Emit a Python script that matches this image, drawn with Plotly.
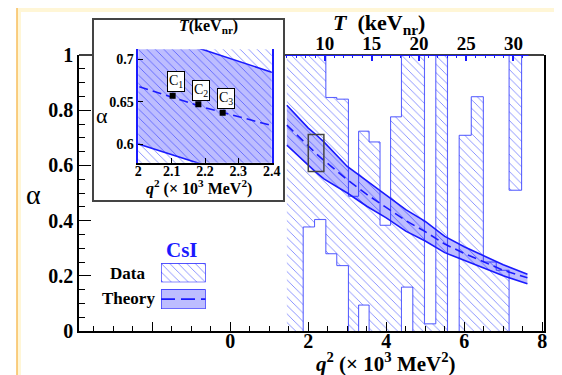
import plotly.graph_objects as go

W, H = 562, 375

# ---------------- data ----------------
bin_edges = [1.45, 1.87, 2.16, 2.45, 2.73, 3.03, 3.29, 3.56, 3.84, 4.11, 4.39,
             4.68, 4.98, 5.27, 5.57, 5.87, 6.18, 6.49, 6.82, 7.15, 7.47]
data_lo = [0.0, 0.377, 0.404, 0.280, 0.237, 0.0, 0.094, 0.0, 0.0, 0.0, 0.159,
           0.0, 0.0, 0.0, 0.0, 0.0, 0.0, 0.0, 0.0, 0.510]
data_hi = [1.0, 1.0, 1.0, 0.846, 0.840, 0.488, 0.724, 0.685, 0.383, 0.776, 1.0,
           1.0, 0.026, 1.0, 0.0, 0.709, 0.849, 0.250, 0.220, 1.0]

theory_q2 = [1.45, 2.0, 2.2, 2.4, 3.0, 3.5, 4.0, 4.5, 5.0, 5.5, 6.0, 6.5, 7.0, 7.62]
theory_mid = [0.746, 0.668, 0.643, 0.618, 0.548, 0.495, 0.446, 0.400, 0.360, 0.315,
              0.281, 0.250, 0.220, 0.193]
theory_up = [0.818, 0.735, 0.711, 0.685, 0.596, 0.543, 0.492, 0.440, 0.397, 0.343,
             0.305, 0.271, 0.240, 0.206]
theory_low = [0.673, 0.600, 0.575, 0.551, 0.500, 0.452, 0.410, 0.362, 0.326, 0.284,
              0.255, 0.228, 0.200, 0.171]

c_labels = ["C<sub>1</sub>", "C<sub>2</sub>", "C<sub>3</sub>"]
c_q2 = [2.103, 2.180, 2.253]
c_alpha = [0.657, 0.647, 0.637]

x_tickvals = [-2, 0, 2, 4, 6, 8]
x_ticktext = ["", "0", "2", "4", "6", "8"]
y_tickvals = [0, 0.2, 0.4, 0.6, 0.8, 1.0]
y_ticktext = ["0", "0.2", "0.4", "0.6", "0.8", "1"]
T_tickvals = [10, 15, 20, 25, 30]
inset_x_tickvals = [2.0, 2.1, 2.2, 2.3, 2.4]
inset_x_ticktext = ["2", "2.1", "2.2", "2.3", "2.4"]
inset_y_tickvals = [0.6, 0.65, 0.7]
inset_y_ticktext = ["0.6", "0.65", "0.7"]
inset_T_tickvals = [8.5, 9, 9.5]
inset_T_ticktext = ["8.5", "9", "9.5"]

KEV_TO_Q2 = 0.242          # q^2 (x10^3 MeV^2) per keV_nr for CsI
T_LINE = [5.85, 31.6]      # extent of blue top (T) axis, keV

# ---------------- layout constants ----------------
X_RANGE = [-3.88, 8.045]
Y_RANGE = [0.0, 1.0]
INSET_X = [2.0, 2.4]
INSET_Y = [0.578, 0.712]
OFF = 8  # page offset of the figure inside the browser window

def px(x):
    return (x - OFF) / W

def py(y):
    return 1 - (y - OFF) / H

FONT = "Liberation Serif"
BLUE = "#1a1aff"
HATCH = "rgba(70,85,255,0.8)"
OUTLINE = "rgba(40,50,255,0.75)"
BAND = "rgba(0,0,255,0.26)"

# ---------------- geometry from data ----------------
hx, hy = [], []
for i in range(len(data_lo)):
    lo, hi = data_lo[i], data_hi[i]
    if hi > lo:
        e0, e1 = bin_edges[i], bin_edges[i + 1]
        hx += [e0, e1, e1, e0, e0, None]
        hy += [lo, lo, hi, hi, lo, None]

def symdiff(a, b):
    ea = a is None or a[1] <= a[0]
    eb = b is None or b[1] <= b[0]
    if ea and eb:
        return []
    if ea:
        return [b]
    if eb:
        return [a]
    olo, ohi = max(a[0], b[0]), min(a[1], b[1])
    if olo >= ohi:
        return [a, b]
    segs = []
    if min(a[0], b[0]) < olo:
        segs.append((min(a[0], b[0]), olo))
    if ohi < max(a[1], b[1]):
        segs.append((ohi, max(a[1], b[1])))
    return segs

ox, oy = [], []
n = len(data_lo)
for i in range(n):
    lo, hi = data_lo[i], data_hi[i]
    if hi > lo:
        e0, e1 = bin_edges[i], bin_edges[i + 1]
        ox += [e0, e1, None]; oy += [hi, hi, None]
        if lo > 0:
            ox += [e0, e1, None]; oy += [lo, lo, None]
for j in range(1, n + 1):
    A = (data_lo[j - 1], data_hi[j - 1])
    B = (data_lo[j], data_hi[j]) if j < n else None
    for s in symdiff(A, B):
        ox += [bin_edges[j], bin_edges[j], None]; oy += [s[0], s[1], None]

band_x = theory_q2 + theory_q2[::-1]
band_y = theory_up + theory_low[::-1]

fig = go.Figure()
PATTERN = dict(shape="\\", fgcolor=HATCH, bgcolor="white", size=6, solidity=0.13)

def add_set(xa, ya, with_outline=True):
    fig.add_trace(go.Scatter(x=hx, y=hy, xaxis=xa, yaxis=ya, mode="lines", fill="toself",
                             line=dict(width=0, color="rgba(0,0,0,0)"), fillcolor="white",
                             fillpattern=PATTERN, hoverinfo="skip", showlegend=False))
    if with_outline:
        fig.add_trace(go.Scatter(x=ox, y=oy, xaxis=xa, yaxis=ya, mode="lines",
                                 line=dict(color=OUTLINE, width=1.1),
                                 hoverinfo="skip", showlegend=False))
    fig.add_trace(go.Scatter(x=band_x, y=band_y, xaxis=xa, yaxis=ya, mode="lines", fill="toself",
                             fillcolor=BAND, line=dict(width=0, color="rgba(0,0,0,0)"),
                             hoverinfo="skip", showlegend=False))
    for yy in (theory_up, theory_low):
        fig.add_trace(go.Scatter(x=theory_q2, y=yy, xaxis=xa, yaxis=ya, mode="lines",
                                 line=dict(color=BLUE, width=1.6),
                                 hoverinfo="skip", showlegend=False))
    fig.add_trace(go.Scatter(x=theory_q2, y=theory_mid, xaxis=xa, yaxis=ya, mode="lines",
                             line=dict(color=BLUE, width=1.6, dash="9px,5px"),
                             hoverinfo="skip", showlegend=False))

add_set("x", "y")
add_set("x3", "y3", with_outline=False)

fig.add_trace(go.Scatter(x=c_q2, y=c_alpha, xaxis="x3", yaxis="y3", mode="markers",
                         marker=dict(symbol="square", size=6, color="black"),
                         hoverinfo="skip", showlegend=False))

# legend glyphs (own small axes)
fig.add_trace(go.Scatter(x=[0, 1, 1, 0, 0], y=[0, 0, 1, 1, 0], xaxis="x5", yaxis="y5",
                         mode="lines", fill="toself", fillcolor="white", fillpattern=PATTERN,
                         line=dict(color=BLUE, width=1.2), hoverinfo="skip", showlegend=False))
fig.add_trace(go.Scatter(x=[0, 1, 1, 0, 0], y=[0, 0, 1, 1, 0], xaxis="x6", yaxis="y6",
                         mode="lines", fill="toself", fillcolor=BAND,
                         line=dict(color=BLUE, width=1.2), hoverinfo="skip", showlegend=False))
fig.add_trace(go.Scatter(x=[0, 1], y=[0.5, 0.5], xaxis="x6", yaxis="y6", mode="lines",
                         line=dict(color=BLUE, width=1.6, dash="14px,6px"),
                         hoverinfo="skip", showlegend=False))

tickfont = dict(family=FONT, size=20, color="black", weight="bold")
small_tf = dict(family=FONT, size=14, color="black", weight="bold")
all_T = [t for t in range(6, 32) if t % 5 != 0]

main_dom_x = [px(79), px(544)]
main_dom_y = [py(331), py(55)]

fig.update_layout(
    width=W, height=H, template="none",
    margin=dict(l=0, r=0, t=0, b=0, autoexpand=False),
    paper_bgcolor="white", plot_bgcolor="rgba(0,0,0,0)",
    showlegend=False,
    xaxis=dict(domain=main_dom_x, range=X_RANGE, anchor="y", showgrid=False, zeroline=False,
               showline=True, linecolor="black", linewidth=1.5, mirror=False,
               ticks="inside", ticklen=9, tickwidth=1.3, tickcolor="black",
               tickvals=x_tickvals, ticktext=x_ticktext, tickfont=tickfont,
               ticklabelstandoff=-9,
               minor=dict(tickvals=[v / 2 for v in range(-7, 17) if v % 4 != 0],
                          ticks="inside", ticklen=5, tickwidth=1, tickcolor="black"),
               automargin=False),
    yaxis=dict(domain=main_dom_y, range=Y_RANGE, anchor="x", showgrid=False, zeroline=False,
               showline=True, linecolor="black", linewidth=1.5, mirror=True,
               ticks="inside", ticklen=12, tickwidth=1.3, tickcolor="black",
               tickvals=y_tickvals, ticktext=y_ticktext, tickfont=tickfont,
               minor=dict(tickvals=[v / 20 for v in range(1, 20) if v % 4 != 0],
                          ticks="inside", ticklen=6, tickwidth=1, tickcolor="black"),
               automargin=False),
    xaxis2=dict(overlaying="x", side="top", anchor="y",
                range=[X_RANGE[0] / KEV_TO_Q2, X_RANGE[1] / KEV_TO_Q2],
                showgrid=False, zeroline=False, showline=False,
                ticks="inside", ticklen=6, tickwidth=1.5, tickcolor=BLUE,
                tickvals=T_tickvals, tickfont=dict(family=FONT, size=19, color="black", weight="bold"),
                minor=dict(tickvals=all_T, ticks="inside", ticklen=3, tickwidth=1, tickcolor=BLUE),
                automargin=False),
    xaxis3=dict(domain=[px(138.3), px(271.7)], range=INSET_X, anchor="y3", showgrid=False,
                zeroline=False, showline=True, linecolor="black", linewidth=1.5,
                ticks="inside", ticklen=5, tickcolor="black", tickvals=inset_x_tickvals,
                ticktext=inset_x_ticktext, tickfont=small_tf, ticklabelstandoff=-5,
                automargin=False),
    yaxis3=dict(domain=[py(162.7), py(49.3)], range=INSET_Y, anchor="x3", showgrid=False,
                zeroline=False, showline=True, linecolor=BLUE, linewidth=1.5, mirror=True,
                ticks="inside", ticklen=5, tickcolor="black", tickvals=inset_y_tickvals,
                ticktext=inset_y_ticktext, tickfont=small_tf, automargin=False),
    xaxis4=dict(overlaying="x3", side="top", anchor="y3",
                range=[INSET_X[0] / KEV_TO_Q2, INSET_X[1] / KEV_TO_Q2],
                showgrid=False, zeroline=False, showline=True, linecolor=BLUE, linewidth=1.5,
                ticks="inside", ticklen=5, tickwidth=1.3, tickcolor=BLUE,
                tickvals=inset_T_tickvals, ticktext=inset_T_ticktext, tickfont=small_tf,
                automargin=False),
    xaxis5=dict(domain=[px(161), px(205.7)], range=[0, 1], anchor="y5", visible=False),
    yaxis5=dict(domain=[py(282.3), py(263.3)], range=[0, 1], anchor="x5", visible=False),
    xaxis6=dict(domain=[px(161), px(205.7)], range=[0, 1], anchor="y6", visible=False),
    yaxis6=dict(domain=[py(309), py(289.3)], range=[0, 1], anchor="x6", visible=False),
)

shapes = [
    # page frame
    dict(type="rect", xref="paper", yref="paper", x0=px(17), x1=px(557), y0=-0.1, y1=py(5),
         fillcolor="#FFF6D6", line=dict(width=0), layer="below"),
    dict(type="rect", xref="paper", yref="paper", x0=px(21), x1=px(555), y0=-0.1, y1=py(12),
         fillcolor="white", line=dict(width=0), layer="below"),
    dict(type="rect", xref="paper", yref="paper", x0=px(17), x1=px(557), y0=-0.1, y1=py(5),
         line=dict(color="#F8BE5E", width=1.5), layer="below"),
    # top frame segments of main plot
    dict(type="line", xref="paper", yref="paper", x0=px(79), x1=px(93), y0=py(55), y1=py(55),
         line=dict(color="black", width=1.5)),
    dict(type="line", xref="paper", yref="paper", x0=px(284), x1=px(544), y0=py(55), y1=py(55),
         line=dict(color="black", width=1.5)),
    dict(type="line", xref="x2", yref="y", x0=T_LINE[0], x1=T_LINE[1], y0=1, y1=1,
         line=dict(color=BLUE, width=2)),
    # inset frame
    dict(type="rect", xref="paper", yref="paper", x0=px(93), x1=px(284), y0=py(201), y1=py(19),
         line=dict(color="#444444", width=2)),
    # zoom box in main plot
    dict(type="rect", xref="x", yref="y", x0=INSET_X[0], x1=INSET_X[1], y0=INSET_Y[0],
         y1=INSET_Y[1], line=dict(color="#444444", width=1.5)),
]
fig.update_layout(shapes=shapes)

ann = [
    dict(text="α", x=px(33), y=py(195), font=dict(family=FONT, size=28, color="black")),
    dict(text="<b><i>q</i><sup>2</sup> (× 10<sup>3</sup> MeV<sup>2</sup>)</b>", x=px(386), y=py(362),
         font=dict(family=FONT, size=21, color="black")),
    dict(text="<b><i>T</i>  (keV<sub>nr</sub>)</b>", x=px(379), y=py(24),
         font=dict(family=FONT, size=22, color="black")),
    dict(text="α", x=px(102), y=py(115), font=dict(family=FONT, size=22, color="black")),
    dict(text="<b><i>q</i><sup>2</sup> (× 10<sup>3</sup> MeV<sup>2</sup>)</b>", x=px(199), y=py(187),
         font=dict(family=FONT, size=16, color="black")),
    dict(text="<b><i>T</i>(keV<sub>nr</sub>)</b>", x=px(208), y=py(27),
         font=dict(family=FONT, size=16, color="black")),
    dict(text="<b>CsI</b>", x=px(182), y=py(250), font=dict(family=FONT, size=21, color="#1a1aff")),
    dict(text="<b>Data</b>", x=px(127), y=py(273), font=dict(family=FONT, size=17, color="black")),
    dict(text="<b>Theory</b>", x=px(128), y=py(298), font=dict(family=FONT, size=17, color="black")),
]
for a in ann:
    a.update(xref="paper", yref="paper", showarrow=False, xanchor="center", yanchor="middle")
for lab, xq, ya in zip(c_labels, c_q2, c_alpha):
    ann.append(dict(text=lab, x=xq, y=ya, xref="x3", yref="y3", showarrow=False,
                    xshift=3, yshift=14, bgcolor="white", bordercolor="black", borderwidth=1,
                    borderpad=1, font=dict(family=FONT, size=14, color="black")))
fig.update_layout(annotations=ann)

fig.write_html("out.html")
